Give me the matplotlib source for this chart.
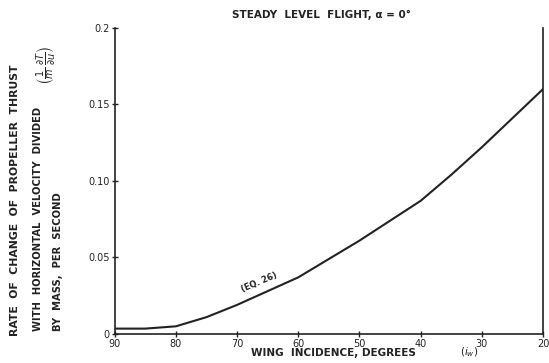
"""
推进器推力变化率 vs 机翼安装角
"""

import matplotlib
matplotlib.use("Agg")
import matplotlib.pyplot as plt
import numpy as np

# 曲线数据
incidence = [90, 85, 80, 75, 70, 65, 60, 55, 50, 45, 40, 35, 30, 25, 20]
thrust_rate = [0.0035, 0.0035, 0.005, 0.011, 0.019, 0.028, 0.037, 0.049,
               0.061, 0.074, 0.087, 0.104, 0.122, 0.141, 0.160]

x_ticks = [90, 80, 70, 60, 50, 40, 30, 20]
y_ticks = [0, 0.05, 0.10, 0.15, 0.2]
y_tick_labels = ['0', '0.05', '0.10', '0.15', '0.2']

plt.rcParams['font.family'] = ['DejaVu Sans']
ink = '#222222'

fig = plt.figure(figsize=(5.49, 3.63), dpi=100)
ax = fig.add_axes([0.209, 0.080, 0.780, 0.843])

ax.plot(incidence, thrust_rate, color=ink, linewidth=1.5)

ax.set_xlim(90, 20)
ax.set_ylim(0, 0.2)
ax.set_xticks(x_ticks)
ax.set_xticklabels([str(v) for v in x_ticks])
ax.set_yticks(y_ticks)
ax.set_yticklabels(y_tick_labels)
ax.tick_params(direction='inout', length=5, width=1, colors=ink,
               labelsize=7, pad=1)

ax.spines['top'].set_visible(False)
for s in ['left', 'right', 'bottom']:
    ax.spines[s].set_color(ink)
    ax.spines[s].set_linewidth(1.2)

# 标题
fig.text(0.586, 0.959, 'STEADY  LEVEL  FLIGHT, α = 0°', ha='center', va='center',
         fontsize=7.5, fontweight='bold', color=ink)

# x轴标签
fig.text(0.608, 0.028, 'WING  INCIDENCE, DEGREES', ha='center', va='center',
         fontsize=7.5, fontweight='bold', color=ink)
fig.text(0.854, 0.03, r'$(i_w)$', ha='center', va='center',
         fontsize=7.5, color=ink)

# y轴标签（三行竖排）
y_lines = ['RATE  OF  CHANGE  OF  PROPELLER  THRUST',
           'WITH  HORIZONTAL  VELOCITY  DIVIDED',
           'BY  MASS,  PER  SECOND']
y_line_x = [15, 38, 58]
y_line_mid = [200, 219, 262]
y_line_size = [7.8, 7.2, 7.2]
for line, px, py, fs in zip(y_lines, y_line_x, y_line_mid, y_line_size):
    fig.text(px / 549, 1 - py / 363, line, rotation=90, ha='center', va='center',
             fontsize=fs, fontweight='bold', color=ink)
fig.text(47 / 549, 1 - 65 / 363,
         r'$\left(\frac{1}{m}\,\frac{\partial T}{\partial u}\right)$',
         rotation=90, ha='center', va='center', fontsize=10, color=ink)

# 曲线注释
ax.text(66.3, 0.034, '(EQ. 26)', rotation=23, ha='center', va='center',
        fontsize=6, fontweight='bold', color=ink)

fig.savefig('out.png', dpi=100)
